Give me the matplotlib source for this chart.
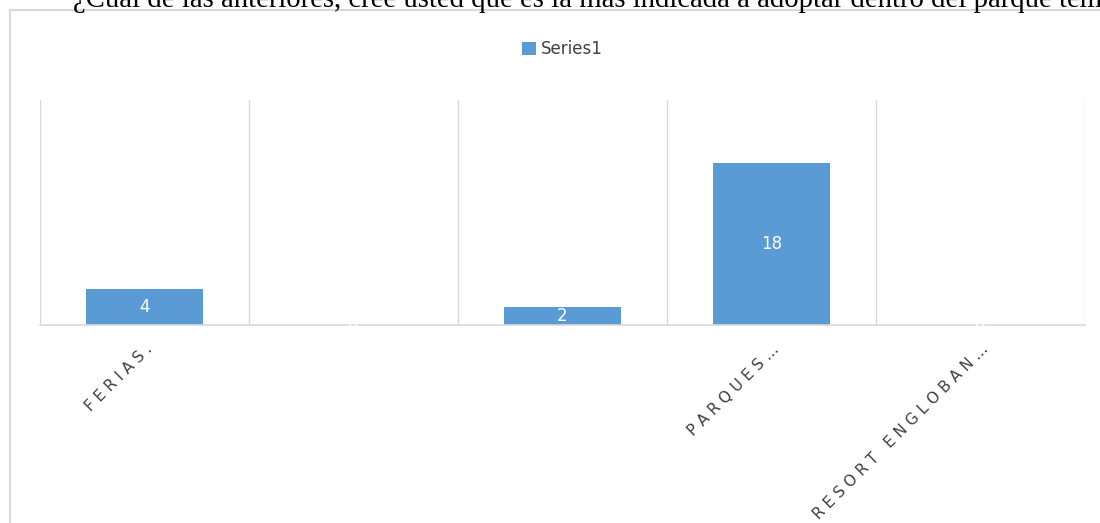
import matplotlib.pyplot as plt
from matplotlib.patches import Rectangle

# datos
categorias = ["FERIAS.", "", "", "PARQUES…", "RESORT ENGLOBAN…"]
valores = [4, 0, 2, 18, 0]
serie = "Series1"
titulo = "¿Cuál de las anteriores, cree usted que es la más indicada a adoptar dentro del parque temático?"

azul = "#5B9BD5"
gris = "#D9D9D9"

fig = plt.figure(figsize=(11, 5.23), dpi=100)
W, H = 1100, 523

# marco exterior del gráfico
fig.patches.append(Rectangle((10 / W, -0.1), 1.2, (H - 10) / H + 0.1, transform=fig.transFigure,
                             fill=False, edgecolor=gris, linewidth=1.5))

# título recortado arriba (sale del lienzo, igual que en el original)
fig.text(73 / W, 1 - 7 / H, titulo, ha="left", va="baseline", fontsize=20.7,
         family="Liberation Serif", color="black")


def espaciar(texto):
    # simula el espaciado de letras de Excel
    return "   ".join(" ".join(p) for p in texto.split(" "))


ax = fig.add_axes([40 / W, 1 - 325 / H, 1045 / W, 225 / H])
x = range(len(valores))
barras = ax.bar(x, valores, width=0.56, color=azul)
ax.set_xlim(-0.5, len(valores) - 0.5)
ax.set_ylim(0, 25)

for i in range(len(valores) + 1):
    ax.axvline(i - 0.5, color=gris, linewidth=1, zorder=0)

for xi, v in zip(x, valores):
    ax.text(xi, v / 2 if v > 0 else 0, str(v), ha="center", va="center", color="white",
            fontsize=12, family="DejaVu Sans")

for s in ["top", "right", "left"]:
    ax.spines[s].set_visible(False)
ax.spines["bottom"].set_color(gris)
ax.spines["bottom"].set_linewidth(1.2)
ax.set_yticks([])
ax.set_xticks(list(x))
ax.set_xticklabels([espaciar(c) for c in categorias], rotation=45, ha="right",
                   rotation_mode="anchor", fontsize=11, color="#404040")
ax.tick_params(axis="x", length=0, pad=12)

ax.legend([barras], [serie], loc="upper center", bbox_to_anchor=(0.5, 1 + 75 / 225),
          frameon=False, fontsize=12, handlelength=0.8, handleheight=0.8,
          handletextpad=0.3, labelcolor="#404040")

fig.savefig("out.png", dpi=100, facecolor="white")
